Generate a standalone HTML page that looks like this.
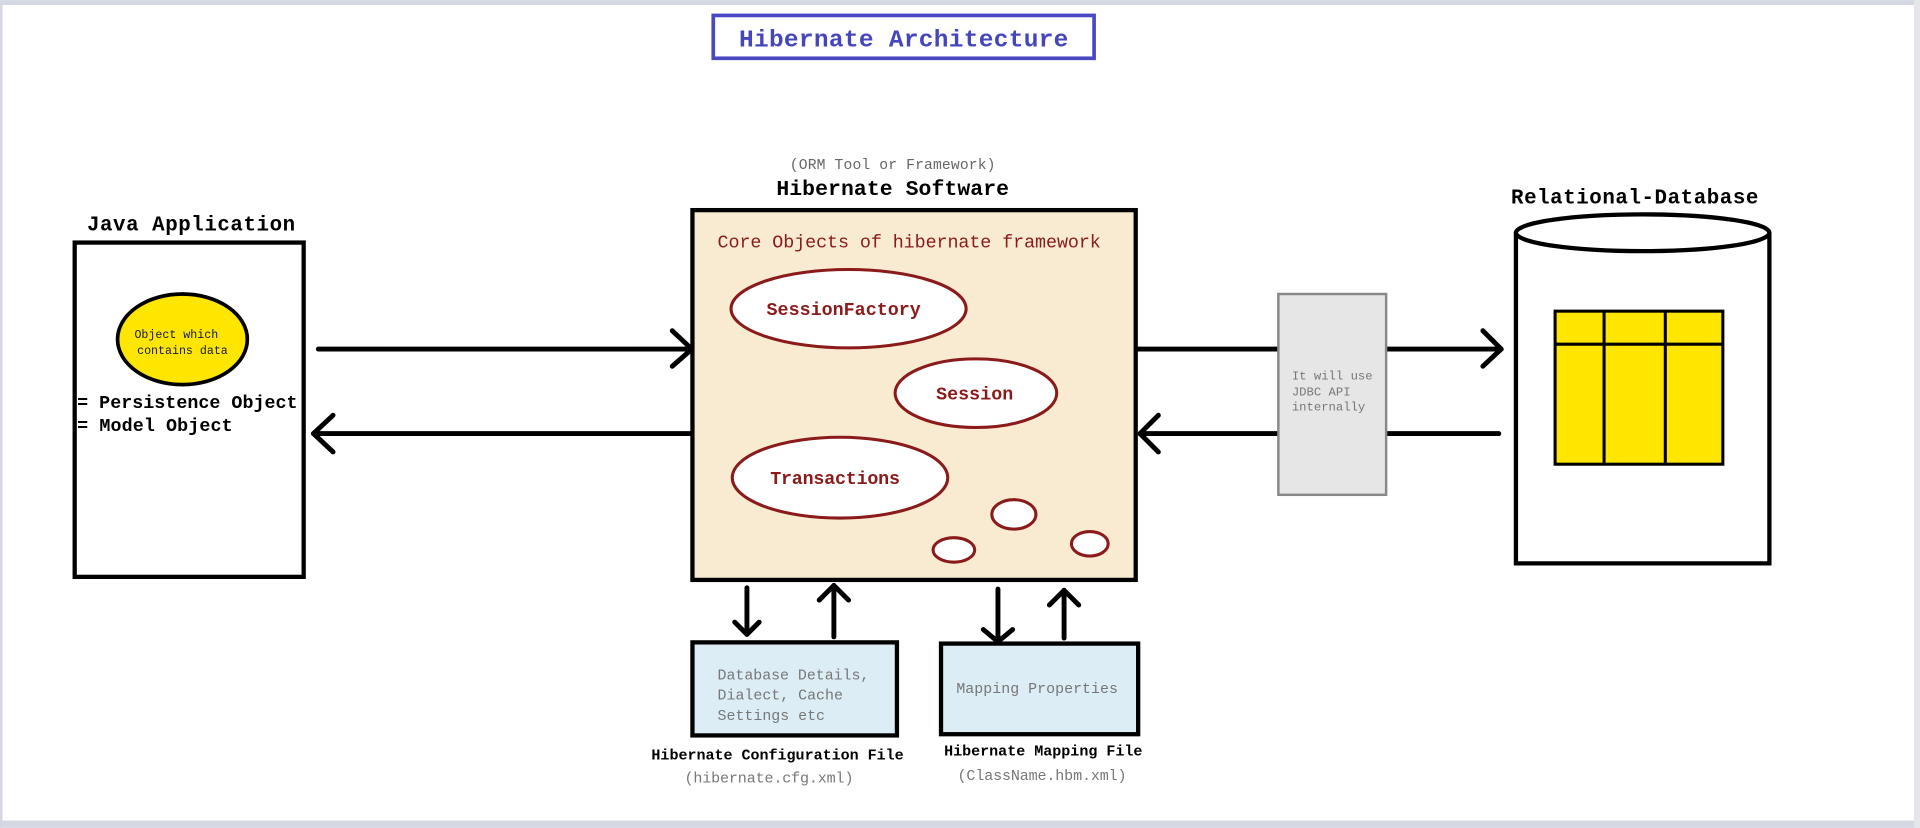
<!DOCTYPE html>
<html><head><meta charset="utf-8"><style>
html,body{margin:0;padding:0;background:#fff;}
svg{display:block;}
text{font-family:"Liberation Mono",monospace;}
</style></head><body>
<svg width="1920" height="828" viewBox="0 0 1568 676" xmlns="http://www.w3.org/2000/svg">
<rect x="0" y="0" width="1568" height="676" fill="#fff"/>
<rect x="0" y="0" width="1568" height="4" fill="#d4d8e2"/>
<rect x="0" y="670" width="1568" height="6" fill="#d4d8e2"/>
<rect x="0" y="0" width="2" height="676" fill="#d4d8e2"/>
<rect x="1563" y="0" width="5" height="676" fill="#e4e6ea"/>

<!-- title -->
<rect x="582.5" y="12.5" width="311" height="35" fill="#fff" stroke="#4848c4" stroke-width="3"/>
<text x="738" y="38" text-anchor="middle" font-size="20" font-weight="bold" fill="#4646bc" textLength="269">Hibernate Architecture</text>

<!-- Java app -->
<text x="156" y="188" text-anchor="middle" font-size="17" font-weight="bold" textLength="170">Java Application</text>
<rect x="61" y="198" width="187" height="273" fill="#fff" stroke="#000" stroke-width="3.5"/>
<ellipse cx="149" cy="277" rx="53" ry="37" fill="#ffe600" stroke="#000" stroke-width="3"/>
<text x="144" y="276" text-anchor="middle" font-size="9.5" fill="#111850">Object which</text>
<text x="149" y="289" text-anchor="middle" font-size="9.5" fill="#111850">contains data</text>
<text x="63" y="333" font-size="15" font-weight="bold" textLength="180">= Persistence Object</text>
<text x="63" y="352" font-size="15" font-weight="bold" textLength="127">= Model Object</text>

<g stroke="#000" stroke-width="4" fill="none" stroke-linecap="round" stroke-linejoin="round">
<line x1="260" y1="285" x2="565" y2="285"/>
<polyline points="549,270 565,285 549,299"/>
<line x1="565" y1="354" x2="256" y2="354"/>
<polyline points="272,339 256,354 272,369"/>
</g>

<!-- Hibernate -->
<text x="729" y="138" text-anchor="middle" font-size="12" fill="#666" textLength="168">(ORM Tool or Framework)</text>
<text x="729" y="159" text-anchor="middle" font-size="17.5" font-weight="bold" textLength="190">Hibernate Software</text>
<rect x="565.5" y="171.5" width="362" height="302" fill="#f9ebd1" stroke="#000" stroke-width="3.5"/>
<text x="586" y="202" font-size="15" fill="#8b1a1a" textLength="313">Core Objects of hibernate framework</text>
<g fill="#fff" stroke="#8b1a1a" stroke-width="2.5">
<ellipse cx="693" cy="252" rx="96" ry="32"/>
<ellipse cx="797" cy="321" rx="66" ry="28"/>
<ellipse cx="686" cy="390" rx="88" ry="33"/>
<ellipse cx="828" cy="420" rx="18" ry="12"/>
<ellipse cx="779" cy="449" rx="17" ry="10"/>
<ellipse cx="890" cy="444" rx="15" ry="10"/>
</g>
<text x="689" y="257" text-anchor="middle" font-size="15" font-weight="bold" fill="#8b1a1a" textLength="126">SessionFactory</text>
<text x="796" y="326" text-anchor="middle" font-size="15" font-weight="bold" fill="#8b1a1a" textLength="63">Session</text>
<text x="682" y="395" text-anchor="middle" font-size="15" font-weight="bold" fill="#8b1a1a" textLength="106">Transactions</text>

<!-- right arrows -->
<g stroke="#000" stroke-width="4" fill="none" stroke-linecap="round" stroke-linejoin="round">
<line x1="928" y1="285" x2="1044" y2="285"/>
<line x1="1132" y1="285" x2="1226" y2="285"/>
<polyline points="1211,270 1226,285 1211,299"/>
<line x1="1224" y1="354" x2="1132" y2="354"/>
<line x1="1044" y1="354" x2="931" y2="354"/>
<polyline points="946,339 931,354 946,369"/>
</g>
<rect x="1044" y="240" width="88" height="164" fill="#e6e6e6" stroke="#888" stroke-width="2"/>
<text x="1055" y="310" font-size="10" fill="#777">It will use</text>
<text x="1055" y="323" font-size="10" fill="#777">JDBC API</text>
<text x="1055" y="335" font-size="10" fill="#777">internally</text>

<!-- database -->
<text x="1335" y="166" text-anchor="middle" font-size="17" font-weight="bold" textLength="202">Relational-Database</text>
<path d="M1238,190 L1238,460 L1445,460 L1445,190" fill="#fff" stroke="#000" stroke-width="3.5"/>
<ellipse cx="1341.5" cy="190" rx="103.5" ry="15" fill="#fff" stroke="#000" stroke-width="3.5"/>
<rect x="1270" y="254" width="137" height="125" fill="#ffe600" stroke="#000" stroke-width="2.5"/>
<g stroke="#000" stroke-width="2.5">
<line x1="1270" y1="281" x2="1407" y2="281"/>
<line x1="1310" y1="254" x2="1310" y2="379"/>
<line x1="1360" y1="254" x2="1360" y2="379"/>
</g>

<!-- bottom arrows -->
<g stroke="#000" stroke-width="4" fill="none" stroke-linecap="round" stroke-linejoin="round">
<line x1="610" y1="480" x2="610" y2="518"/>
<polyline points="600,508 610,518 620,508"/>
<line x1="681" y1="520" x2="681" y2="478"/>
<polyline points="669,490 681,478 693,490"/>
<line x1="815" y1="481" x2="815" y2="524"/>
<polyline points="803,514 815,524 827,514"/>
<line x1="869" y1="521" x2="869" y2="482"/>
<polyline points="857,494 869,482 881,494"/>
</g>
<rect x="565.5" y="524.5" width="167" height="76" fill="#dcedf6" stroke="#000" stroke-width="3.5"/>
<text x="586" y="555" font-size="12.2" fill="#777" textLength="124">Database Details,</text>
<text x="586" y="571" font-size="12.2" fill="#777">Dialect, Cache</text>
<text x="586" y="588" font-size="12.2" fill="#777">Settings etc</text>
<rect x="768.5" y="525.5" width="161" height="74" fill="#dcedf6" stroke="#000" stroke-width="3.5"/>
<text x="781" y="566" font-size="12.2" fill="#777" textLength="132">Mapping Properties</text>
<text x="635" y="620" text-anchor="middle" font-size="12.3" font-weight="bold" textLength="206">Hibernate Configuration File</text>
<text x="628" y="639" text-anchor="middle" font-size="12.3" fill="#777" textLength="138">(hibernate.cfg.xml)</text>
<text x="852" y="617" text-anchor="middle" font-size="12.3" font-weight="bold" textLength="162">Hibernate Mapping File</text>
<text x="851" y="637" text-anchor="middle" font-size="12.3" fill="#777" textLength="138">(ClassName.hbm.xml)</text>
</svg>
</body></html>
